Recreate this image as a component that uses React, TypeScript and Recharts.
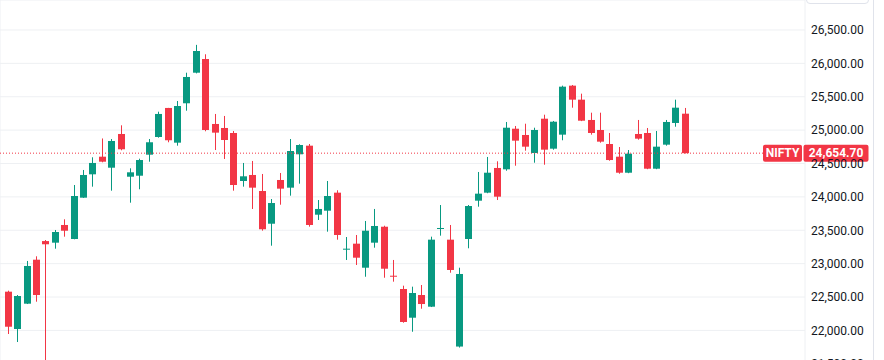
import React from "react";
import { ComposedChart, Bar, XAxis, YAxis, CartesianGrid, ReferenceLine } from "recharts";

// NIFTY weekly candles (week 1 = first fully visible candle)
const opens = [
  22580, 22021, 22400, 23059, 23338, 23314, 23579, 23369, 23988, 24338,
  24602, 24437, 24942, 24302, 24317, 24632, 24897, 25332, 24812, 25402,
  25860, 26065, 25092, 25032, 24957, 24238, 24328, 24088, 23598, 24253,
  24138, 24638, 24767, 23733, 23793, 24063, 23209, 23299, 22939, 23314,
  23553, 22819, 22620, 22190, 22530, 22355, 23519, 23359, 21758, 23369,
  23943, 24063, 24433, 24413, 25021, 24927, 24657, 25171, 24722, 24932,
  25666, 25456, 25152, 25002, 24792, 24602, 24362, 24942, 24957, 24422,
  24782, 25107, 25246,
];
const highs = [
  22595, 22530, 23040, 23110, 23354, 23504, 23664, 24178, 24403, 24593,
  24875, 24867, 25072, 24428, 24572, 24867, 25276, 25333, 25436, 25860,
  26277, 26136, 25242, 25212, 24987, 24508, 24538, 24343, 23968, 24358,
  24867, 24788, 24792, 23953, 24238, 24099, 23399, 23429, 23639, 23819,
  23568, 23055, 22670, 22655, 22680, 23404, 23878, 23579, 22939, 23878,
  24373, 24598, 24533, 25122, 25062, 25096, 25036, 25231, 25137, 25666,
  25676, 25546, 25261, 25261, 24957, 24747, 24702, 25152, 25032, 24987,
  25152, 25456, 25332,
];
const lows = [
  21946, 21826, 22395, 22430, 21281, 23224, 23404, 23365, 23985, 24153,
  24518, 24093, 24698, 23913, 24114, 24527, 24887, 24818, 24767, 25291,
  25850, 24983, 24702, 24568, 24093, 24153, 23819, 23494, 23269, 23883,
  24018, 24198, 23554, 23654, 23479, 23359, 23055, 22980, 22804, 23239,
  22789, 22730, 22115, 21980, 22325, 22350, 23419, 22864, 21743, 23230,
  23853, 24055, 23953, 24392, 24467, 24692, 24512, 24482, 24707, 24848,
  25336, 25135, 24932, 24812, 24542, 24347, 24355, 24857, 24415, 24415,
  24767, 25051, 24650,
];
const closes = [
  22055, 22515, 22965, 22530, 23290, 23474, 23493, 24013, 24328, 24508,
  24527, 24837, 24713, 24368, 24552, 24818, 25242, 24848, 25361, 25796,
  26185, 25002, 24962, 24852, 24178, 24308, 24138, 23515, 23908, 24123,
  24687, 24777, 23579, 23819, 24013, 23429, 23224, 23089, 23493, 23564,
  22924, 22804, 22126, 22560, 22395, 23359, 23534, 22905, 22845, 23863,
  24048, 24362, 24003, 25036, 24842, 24752, 25002, 24707, 25126, 25651,
  25456, 25141, 24957, 24827, 24552, 24362, 24647, 24872, 24422, 24752,
  25122, 25336, 24654.7,
];
const priceTicks = [21500, 22000, 22500, 23000, 23500, 24000, 24500, 25000, 25500, 26000, 26500];
const monthStarts = [1, 9, 18, 27, 36, 44, 53, 62, 70, 79];
const symbol = "NIFTY";
const lastPrice = 24654.7;

const UP = "#089981";
const DOWN = "#f23645";

const data = opens.map((o, k) => ({
  week: k + 1,
  o,
  h: highs[k],
  l: lows[k],
  c: closes[k],
  range: [lows[k], highs[k]],
}));

const fmt = (v: number) =>
  v.toLocaleString("en-US", { minimumFractionDigits: 2, maximumFractionDigits: 2 });

function Candle(props: any) {
  const { x, y, width, height, payload } = props;
  if (!payload) return null;
  const top = Math.min(y, y + height);
  const span = Math.abs(height);
  const perUnit = span / (payload.h - payload.l || 1);
  const yOf = (v: number) => top + (payload.h - v) * perUnit;
  const color = payload.c >= payload.o ? UP : DOWN;
  const bodyTop = yOf(Math.max(payload.o, payload.c));
  const bodyH = Math.max(1, yOf(Math.min(payload.o, payload.c)) - bodyTop);
  const bx = Math.round(x + width / 2 - 3.5);
  return (
    <g>
      <rect x={bx + 3} y={top} width={1} height={span} fill={color} />
      <rect x={bx} y={bodyTop} width={7} height={bodyH} fill={color} />
    </g>
  );
}

function PriceTag(props: any) {
  const vb = props.viewBox
  if (!vb) return null
  const right = vb.x + vb.width
  const cy = vb.y
  return (
    <g>
      <rect x={right - 42} y={cy - 8.5} width={39} height={17} rx={2} fill={DOWN} />
      <text x={right - 22.5} y={cy} dy="0.36em" textAnchor="middle" fill="#fff" fontSize={12} fontWeight={700} fontFamily="Roboto, sans-serif">
        {symbol}
      </text>
      <rect x={right - 1.5} y={cy - 8.5} width={65} height={17} rx={2} fill={DOWN} />
      <text x={right + 31} y={cy} dy="0.36em" textAnchor="middle" fill="#fff" fontSize={12} fontWeight={700} fontFamily="Roboto, sans-serif">
        {fmt(lastPrice)}
      </text>
    </g>
  )
}

export default function App() {
  return (
    <div style={{ position: "absolute", left: 0, top: 0, width: 884, height: 360, overflow: "hidden", background: "#fff" }}>
      <ComposedChart width={884} height={380} data={data} margin={{ top: 0, right: 0, bottom: 0, left: 0 }}>
        <CartesianGrid stroke="#eef0f3" />
        <XAxis
          type="number"
          dataKey="week"
          domain={[0.096, 85.73]}
          allowDataOverflow
          ticks={monthStarts}
          height={0}
          tick={false}
          axisLine={false}
          tickLine={false}
        />
        <YAxis
          orientation="right"
          width={79}
          domain={[21257, 26949]}
          allowDataOverflow
          ticks={priceTicks}
          tickFormatter={fmt}
          axisLine={false}
          tickLine={false}
          tickSize={0}
          tickMargin={6}
          tick={{ fill: "#131722", fontSize: 12, fontFamily: "Roboto, sans-serif" }}
        />
        <Bar dataKey="range" barSize={7} shape={<Candle />} isAnimationActive={false} />
        <ReferenceLine y={lastPrice} stroke={DOWN} strokeDasharray="1 2" label={<PriceTag />} />
      </ComposedChart>
      <div style={{ position: "absolute", left: 873, top: 0, width: 1, height: 360, background: "#e0e3eb" }} />
      <div style={{ position: "absolute", left: 806, top: -20, width: 61, height: 22, border: "1px solid #e0e3eb", borderRadius: 4 }} />
    </div>
  );
}
